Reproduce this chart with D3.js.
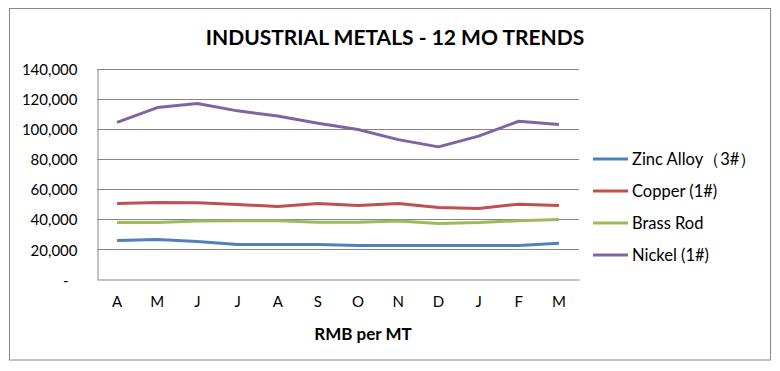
<!DOCTYPE html>
<html lang="en">
<head>
    <meta charset="UTF-8">
    <title>Industrial Metals - 12 Mo Trends</title>
    <script src="https://d3js.org/d3.v7.min.js"></script>
    <style>
        body { margin: 0; background: #fff; }
        text { font-family: Lato, "Open Sans", sans-serif; fill: #000; }
    </style>
</head>
<body>
    <svg width="780" height="371"></svg>
    <script>
        const months = ["A", "M", "J", "J", "A", "S", "O", "N", "D", "J", "F", "M"];
        const zinc   = [25900, 26500, 25200, 23200, 23200, 23200, 22600, 22600, 22600, 22600, 22600, 24100];
        const copper = [50400, 51100, 51000, 49800, 48400, 50400, 49100, 50500, 47800, 47100, 50000, 49100];
        const brass  = [37800, 37800, 38800, 39000, 39000, 38000, 38000, 38800, 37200, 37800, 39000, 39800];
        const nickel = [104200, 114100, 116800, 111900, 108500, 103700, 99500, 92800, 88000, 95100, 105000, 102800];
        const yTicks = [0, 20000, 40000, 60000, 80000, 100000, 120000, 140000];

        const series = [
            { name: "Zinc Alloy\uFF083#\uFF09", values: zinc,   color: "#4F81BD" },
            { name: "Copper (1#)",               values: copper, color: "#C0504D" },
            { name: "Brass Rod",                 values: brass,  color: "#9BBB59" },
            { name: "Nickel (1#)",               values: nickel, color: "#8064A2" }
        ];

        const svg = d3.select("svg");
        const plot = { left: 97, right: 579, top: 68.5, bottom: 279.5 };

        // chart frame
        svg.append("rect")
            .attr("x", 9.5).attr("y", 8.5)
            .attr("width", 761).attr("height", 351.5)
            .attr("fill", "#fff")
            .attr("stroke", "#888").attr("stroke-width", 1);

        const x = d3.scaleBand()
            .domain(d3.range(months.length))
            .range([plot.left, plot.right]);

        const y = d3.scaleLinear()
            .domain([0, 140000])
            .range([plot.bottom, plot.top]);

        // gridlines
        svg.append("g")
            .selectAll("line")
            .data(yTicks.slice(1))
            .enter().append("line")
            .attr("x1", plot.left).attr("x2", plot.right)
            .attr("y1", d => Math.round(y(d)) + 0.5)
            .attr("y2", d => Math.round(y(d)) + 0.5)
            .attr("stroke", "#878787");

        // y axis
        const yAxis = svg.append("g")
            .attr("transform", `translate(${plot.left + 0.5},0)`)
            .call(d3.axisLeft(y)
                .tickValues(yTicks)
                .tickSize(0)
                .tickPadding(20)
                .tickFormat(d => d === 0 ? "-" : d3.format(",")(d)));
        yAxis.select(".domain").attr("stroke", "#878787");
        yAxis.selectAll("text")
            .style("font-size", "15px")
            .attr("dx", d => d === 0 ? -9 : 0)
            .attr("dy", "0.38em");

        // x axis
        const xAxis = svg.append("g")
            .attr("transform", `translate(0,${plot.bottom})`)
            .call(d3.axisBottom(x)
                .tickSize(0)
                .tickPadding(17)
                .tickFormat(i => months[i]));
        xAxis.select(".domain").attr("stroke", "#878787");
        xAxis.selectAll("text").style("font-size", "15px");

        // lines
        const line = d3.line()
            .x((d, i) => x(i) + x.bandwidth() / 2)
            .y(d => y(d));

        svg.append("g")
            .selectAll("path")
            .data(series)
            .enter().append("path")
            .attr("d", d => line(d.values))
            .attr("fill", "none")
            .attr("stroke", d => d.color)
            .attr("stroke-width", 3)
            .attr("stroke-linejoin", "round");

        // legend
        const legend = svg.append("g")
            .selectAll("g")
            .data(series)
            .enter().append("g")
            .attr("transform", (d, i) => `translate(593,${159 + i * 32})`);
        legend.append("line")
            .attr("x1", 0).attr("x2", 35)
            .attr("stroke", d => d.color)
            .attr("stroke-width", 3);
        legend.append("text")
            .attr("x", 39)
            .attr("dy", "0.35em")
            .style("font-size", "16.5px")
            .text(d => d.name);

        // titles
        svg.append("text")
            .attr("x", 395).attr("y", 45)
            .attr("text-anchor", "middle")
            .style("font-size", "21px")
            .style("font-weight", "bold")
            .text("INDUSTRIAL METALS - 12 MO TRENDS");

        svg.append("text")
            .attr("x", 363).attr("y", 340)
            .attr("text-anchor", "middle")
            .style("font-size", "17px")
            .style("font-weight", "bold")
            .text("RMB per MT");
    </script>
</body>
</html>
